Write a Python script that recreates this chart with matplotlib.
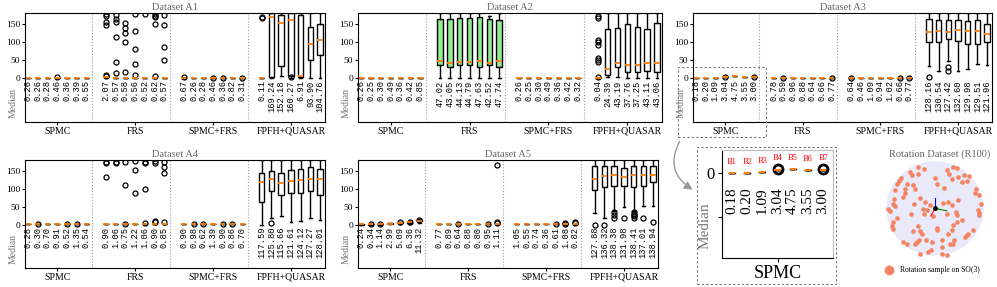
import numpy as np
import matplotlib
matplotlib.use("Agg")
from matplotlib import pyplot as plt
from matplotlib.patches import Rectangle, FancyArrowPatch, Ellipse
from matplotlib.lines import Line2D

plt.rcParams['font.family'] = 'serif'
plt.rcParams['font.serif'] = ['Liberation Serif', 'DejaVu Serif']

groups = ['SPMC', 'FRS', 'SPMC+FRS', 'FPFH+QUASAR']

# medians per dataset, one row per method
med_A1 = [[0.26, 0.26, 0.28, 0.46, 0.36, 0.39, 0.55],
          [2.07, 0.57, 0.58, 0.56, 0.52, 0.62, 0.57],
          [0.67, 0.26, 0.28, 0.46, 0.36, 0.82, 0.31],
          [0.11, 169.24, 152.18, 160.27, 6.91, 93.90, 104.76]]
med_A2 = [[0.26, 0.25, 0.30, 0.49, 0.36, 0.42, 0.85],
          [47.02, 43.05, 44.13, 44.79, 47.63, 42.52, 47.74],
          [0.26, 0.25, 0.30, 0.49, 0.36, 0.42, 0.32],
          [0.04, 24.39, 43.19, 37.76, 37.25, 43.11, 43.06]]
med_A3 = [[0.18, 0.20, 1.09, 3.04, 4.75, 3.55, 3.00],
          [0.78, 0.59, 0.96, 0.88, 0.64, 0.66, 0.77],
          [0.64, 0.46, 1.09, 0.94, 1.02, 0.66, 0.77],
          [128.16, 130.54, 127.42, 132.60, 129.98, 129.51, 121.96]]
med_A4 = [[0.28, 0.30, 0.70, 0.91, 0.52, 1.35, 0.54],
          [0.90, 1.06, 0.75, 1.22, 1.06, 0.90, 0.85],
          [0.90, 0.98, 0.62, 1.39, 0.90, 0.86, 0.70],
          [117.59, 125.80, 115.66, 121.61, 124.12, 127.27, 128.01]]
med_A5 = [[0.24, 0.34, 1.14, 2.99, 5.09, 6.36, 11.32],
          [0.77, 0.89, 0.64, 0.88, 0.80, 0.95, 1.11],
          [1.05, 0.55, 0.74, 0.36, 0.61, 1.08, 0.82],
          [127.88, 136.32, 138.38, 131.98, 138.41, 137.01, 138.94]]

# quartiles / whiskers for the wide boxes: (method index, q1, q3, whisker low, whisker high)
wide_A1 = [(3, [0.05, 3, 34, 6, 3, 50, 64], [0.2, 185, 175, 185, 175, 142, 150],
            [0, 0, 6, 0, 0, 0, 0], [0.3, 180, 180, 180, 180, 180, 180])]
wide_A2 = [(1, [37, 32, 37, 37, 32, 37, 32], [163, 163, 165, 167, 168, 164, 161],
            [0.5, 0.5, 0.5, 0.5, 0.5, 0.5, 0.5], [180, 180, 180, 180, 180, 172, 180]),
           (3, [0.02, 9, 30, 16, 16, 20, 17], [0.1, 136, 138, 149, 141, 135, 152],
            [0, 4, 2, 1, 1, 1, 1], [0.2, 180, 180, 180, 180, 180, 180])]
wide_A3 = [(3, [101, 101, 108, 104, 95, 94, 99], [163, 161, 161, 161, 159, 161, 149],
            [34, 20, 48, 21, 26, 39, 37], [180, 180, 180, 180, 180, 180, 180])]
wide_A4 = [(3, [62, 94, 83, 88, 87, 93, 82], [145, 150, 143, 152, 156, 160, 155],
            [0, 18, 25, 6, 11, 18, 13], [180, 180, 180, 180, 180, 180, 180])]
wide_A5 = [(0, [0.1, 0.2, 0.6, 2.0, 3.5, 4.5, 9.0], [0.4, 0.6, 1.8, 4.0, 6.5, 8.0, 13.0],
            [0, 0, 0.2, 0.5, 1.0, 1.5, 5.0], [0.8, 1.2, 2.5, 5.0, 7.0, 9.0, 15.0]),
           (3, [97, 104, 108, 108, 105, 108, 118], [162, 164, 162, 159, 164, 164, 162],
            [32, 18, 39, 50, 39, 53, 53], [180, 180, 180, 180, 180, 180, 180])]

fl_A1 = [[[], [], [], [2], [], [], []],
         [[178, 172, 155, 148, 9, 6], [175, 164, 156, 115, 44, 14], [152, 138, 124, 101, 16],
          [178, 129, 81, 39, 9], [178], [178, 172, 168, 150, 5], [175, 147, 86, 49]],
         [[3], [], [], [1.5], [1.5], [], [1]],
         [[165, 170], [], [], [2], [], [], []]]
fl_A2 = [[[], [], [], [], [], [], []],
         [[], [], [], [], [], [], []],
         [[], [], [], [], [], [], []],
         [[173, 166, 106, 100, 93, 55, 50, 46, 3], [], [], [], [], [], []]]
fl_A3 = [[[], [], [], [4], [], [], [4]],
         [[], [1.5], [], [], [], [], [1.5]],
         [[1.5], [], [], [], [], [1.5], [1.5]],
         [[2], [], [32, 21], [], [], [], []]]
fl_A4 = [[[], [2], [], [], [2], [2], []],
         [[175, 171, 134], [175, 171], [175, 111, 2], [178, 152, 87], [175, 171, 99, 4],
          [178, 173, 11, 6], [175, 160, 143, 6]],
         [[], [2], [3], [], [2], [1], []],
         [[], [4], [], [], [], [], []]]
fl_A5 = [[[], [2], [3], [], [6], [7], [14]],
         [[], [], [3], [], [], [3], [5, 7, 166]],
         [[], [], [], [], [3], [3, 5], [5, 7]],
         [[0], [0], [34, 27, 18], [19], [36, 30, 26, 23, 19], [19], [7]]]

inset_tags = ['B1', 'B2', 'B3', 'B4', 'B5', 'B6', 'B7']

# rotation samples, projected (picture units, centre 255/204, radius 141)
rot_x = [205, 222, 180, 185, 203, 152, 148, 140, 172, 190, 195, 165, 165, 135, 158, 132, 130,
         115, 120, 135, 140, 130, 125, 128, 160, 172, 195, 200, 208, 228, 245, 210, 235, 243,
         275, 275, 275, 290, 300, 310, 312, 295, 305, 310, 320, 345, 350, 355, 370, 190, 210,
         205, 215, 260, 262, 182, 218, 222, 210, 192, 225, 240, 230, 250, 278, 295, 305, 318,
         320, 325, 335, 292, 255, 262, 282, 290, 298, 310, 322, 305, 325, 343, 357, 337, 352,
         378, 376, 387, 393, 385, 387, 388]
rot_y = [78, 86, 95, 103, 100, 112, 122, 132, 130, 135, 145, 145, 158, 148, 170, 175, 190,
         205, 213, 198, 232, 245, 258, 265, 305, 312, 310, 305, 300, 298, 305, 340, 335, 328,
         300, 320, 340, 343, 310, 312, 298, 280, 268, 255, 245, 290, 285, 280, 268, 272, 272,
         258, 280, 262, 270, 222, 205, 222, 172, 190, 185, 195, 210, 228, 188, 185, 195, 215,
         225, 180, 240, 220, 112, 130, 143, 90, 100, 78, 82, 115, 110, 103, 107, 125, 122,
         145, 158, 165, 190, 208, 218, 225]

W, H = 997, 287
fig = plt.figure(figsize=(W / 100, H / 100), dpi=100)


def px_axes(x0, y0, x1, y1):
    return fig.add_axes([x0 / W, 1 - y1 / H, (x1 - x0) / W, (y1 - y0) / H])


def make_stats(meds, wide, fliers):
    stats = []
    for g in range(4):
        for i in range(7):
            m = meds[g][i]
            s = dict(med=m, q1=m, q3=m, whislo=m, whishi=m, fliers=fliers[g][i])
            for (wg, q1, q3, lo, hi) in wide:
                if wg == g:
                    s.update(q1=q1[i], q3=q3[i], whislo=lo[i], whishi=hi[i])
            stats.append(s)
    return stats


positions = [g * 8 + i for g in range(4) for i in range(7)]


def panel(ax, title, meds, wide, fliers, green=None):
    stats = make_stats(meds, wide, fliers)
    bp = ax.bxp(stats, positions=positions, widths=0.55, patch_artist=True,
                boxprops=dict(facecolor='white', edgecolor='black', linewidth=1.0),
                whiskerprops=dict(color='black', linewidth=1.0),
                capprops=dict(color='black', linewidth=1.0),
                medianprops=dict(color='#ff7f0e', linewidth=1.3),
                flierprops=dict(marker='o', markerfacecolor='none', markeredgecolor='black',
                                markersize=3.6, markeredgewidth=0.9))
    if green is not None:
        for k in range(green * 7, green * 7 + 7):
            bp['boxes'][k].set_facecolor('#90ee90')
    for g in range(3):
        ax.axvline(g * 8 + 6.55, color='#999999', linestyle=':', linewidth=0.8)
    for k, p in enumerate(positions):
        ax.text(p, -6, '%.2f' % meds[k // 7][k % 7], rotation=90, ha='center', va='top',
                fontsize=6.3, family='Liberation Mono')
    ax.set_xlim(-0.3, 30.5)
    ax.set_ylim(-121, 180)
    ax.set_yticks([0, 50, 100, 150])
    ax.tick_params(axis='y', labelsize=6.8, length=2, pad=1.5)
    ax.set_xticks([g * 8 + 3 for g in range(4)])
    ax.set_xticklabels(groups, fontsize=7)
    ax.tick_params(axis='x', length=2, pad=1.5)
    ax.set_title(title, fontsize=7.5, color='#666666', pad=2.5)
    ax.text(-0.038, -68, 'Median', rotation=90, ha='center', va='center', fontsize=7,
            color='#777777', transform=ax.get_yaxis_transform())
    for sp in ax.spines.values():
        sp.set_linewidth(0.8)


panel(px_axes(25, 13, 325, 122), 'Dataset A1', med_A1, wide_A1, fl_A1)
panel(px_axes(358, 13, 662, 122), 'Dataset A2', med_A2, wide_A2, fl_A2, green=1)
panel(px_axes(693, 13, 992, 122), 'Dataset A3', med_A3, wide_A3, fl_A3)
panel(px_axes(25, 160, 325, 268), 'Dataset A4', med_A4, wide_A4, fl_A4)
panel(px_axes(358, 160, 658, 268), 'Dataset A5', med_A5, wide_A5, fl_A5)

# highlight box in A3 and magnified SPMC inset
fig.patches.append(Rectangle((678 / W, 1 - 137 / H), 88 / W, 70 / H, transform=fig.transFigure,
                             fill=False, edgecolor='#777777', linestyle=(0, (2, 2)), linewidth=0.8))
fig.patches.append(Rectangle((697 / W, 1 - 284 / H), 139 / W, 137 / H, transform=fig.transFigure,
                             fill=False, edgecolor='#777777', linestyle=(0, (2, 2)), linewidth=0.8))
fig.patches.append(FancyArrowPatch((681 / W, 1 - 139 / H), (695 / W, 1 - 191 / H),
                                   transform=fig.transFigure, connectionstyle='arc3,rad=0.5',
                                   arrowstyle='-|>', mutation_scale=12, color='#999999',
                                   linewidth=1.0))

axi = px_axes(722, 150, 833, 258)
spmc_stats = make_stats(med_A3, [], fl_A3)[:7]
axi.bxp(spmc_stats, positions=range(7), widths=0.4,
        boxprops=dict(color='black', linewidth=1.0),
        medianprops=dict(color='#ff7f0e', linewidth=1.5),
        flierprops=dict(marker='o', markerfacecolor='none', markeredgecolor='black',
                        markersize=6.5, markeredgewidth=2.0))
for i, s in enumerate(spmc_stats):
    top = max([s['whishi']] + list(s['fliers']))
    axi.text(i, top + 8, inset_tags[i], color='red', fontsize=6, ha='center', va='bottom')
    axi.text(i, -17, '%.2f' % s['med'], rotation=90, ha='center', va='top', fontsize=11)
axi.set_xlim(-0.65, 6.65)
axi.set_ylim(-97, 26)
axi.set_yticks([0, -50])
axi.set_yticklabels(['0', ''], fontsize=12)
axi.set_xticks([3])
axi.set_xticklabels(['SPMC'], fontsize=13)
axi.tick_params(length=3, pad=2)
axi.text(-0.15, 0.3, 'Median', rotation=90, ha='center', va='center', fontsize=11,
         color='#777777', transform=axi.transAxes)
for side in ['top', 'right']:
    axi.spines[side].set_color('#bbbbbb')

# rotation dataset
axr = px_axes(880, 158, 990, 260)
axr.add_patch(Ellipse((0, 0), 2.04, 1.98, color='#e9e9f9', zorder=0))
ux = (np.array(rot_x) - 255) / 141
uy = (204 - np.array(rot_y)) / 141
axr.scatter(ux, uy, s=11, color='#f4835f', linewidths=0, zorder=2)
axr.plot([0, 0], [0, 0.22], color='blue', linewidth=0.8, zorder=3)
axr.plot([0, 0.25], [0, -0.05], color='green', linewidth=0.8, zorder=3)
axr.plot([0, -0.09], [0, -0.16], color='red', linewidth=0.8, zorder=3)
axr.plot([0], [0], 'o', color='black', markersize=2.5, zorder=4)
axr.set_xlim(-1.17, 1.17)
axr.set_ylim(-1.1, 1.075)
axr.axis('off')
fig.text(940 / W, 1 - 154 / H, 'Rotation Dataset (R100)', ha='center', va='center',
         fontsize=7.5, color='#666666')
fig.lines.append(Line2D([889 / W], [1 - 270 / H], marker='o', markersize=6, color='#f4835f',
                        linestyle='none', transform=fig.transFigure))
fig.text(900 / W, 1 - 270 / H, 'Rotation sample on SO(3)', ha='left', va='center', fontsize=5.5)

fig.savefig('out.png', dpi=100)
